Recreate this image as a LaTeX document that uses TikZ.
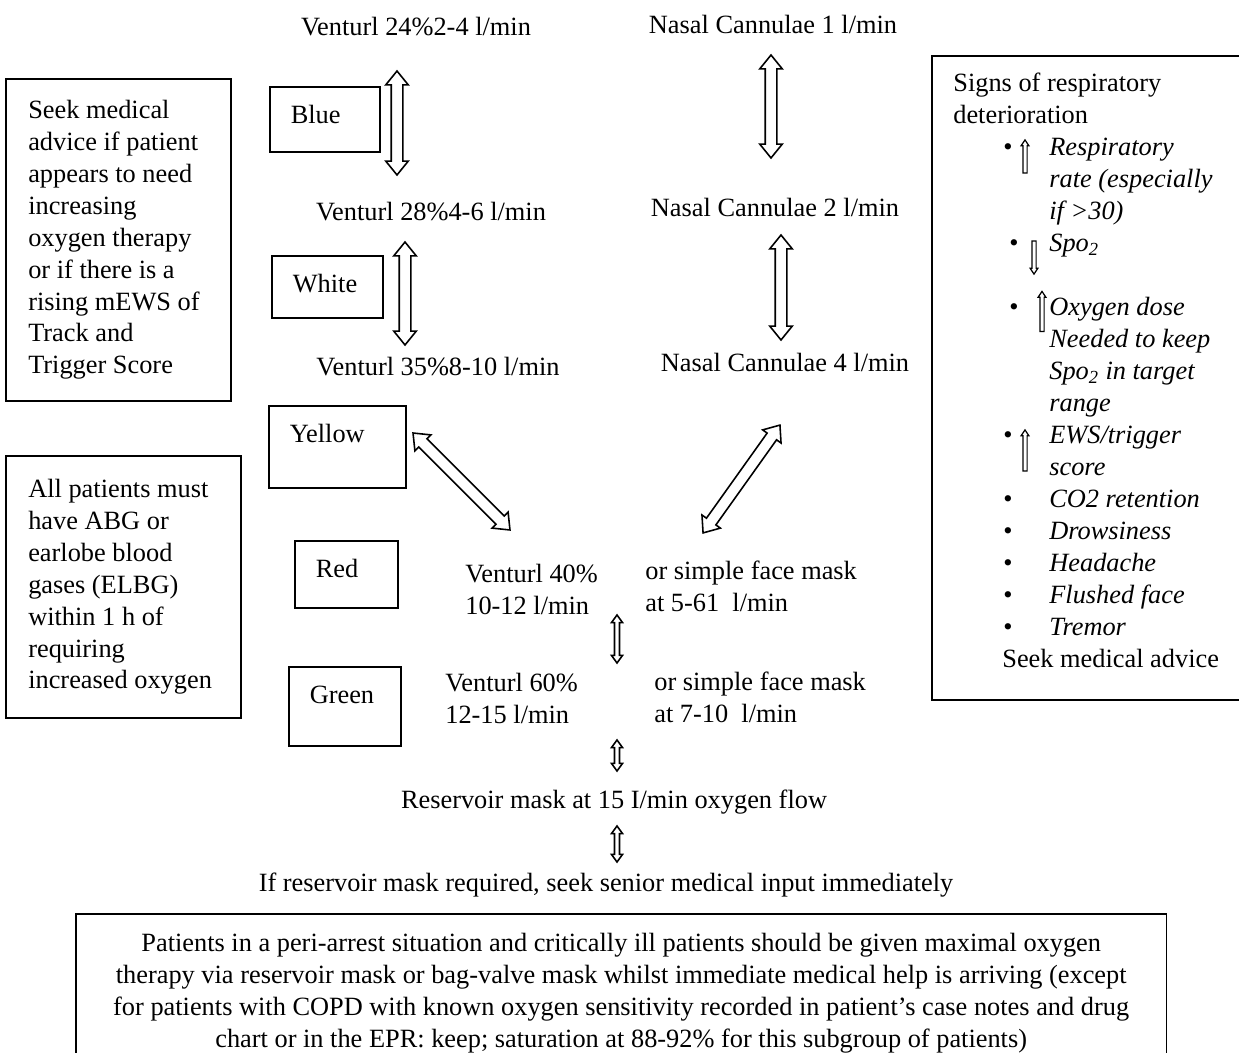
\documentclass[tikz,border=0pt]{standalone}
\usepackage{fontspec}
\setmainfont{Liberation Serif}
\usetikzlibrary{shapes.arrows,calc}

% two-headed block arrow between two named points
\newcommand{\twoway}[3][bigway]{%
  \path let \p1=($(#3)-(#2)$), \n1={veclen(\x1,\y1)} in
    (#2) -- (#3) node[#1, midway, sloped, minimum height=\n1] {};}
% one line of the list of signs
\newcommand{\sign}[2]{\hspace*{1cm}\makebox[0.92cm][l]{#1}\textit{#2}}

\begin{document}
\begin{tikzpicture}[x=0.02cm, y=-0.02cm,
    font=\fontsize{15}{18.2}\selectfont,
    txt/.style = {inner sep=0pt, align=left},
    colbox/.style = {draw, line width=0.9pt, anchor=north west, inner xsep=0.42cm, inner ysep=0pt, text height=0.74cm},
    note/.style = {draw, line width=0.9pt, anchor=north west, align=flush left, inner xsep=0.45cm},
    bigway/.style = {double arrow, draw, line width=0.9pt, inner xsep=0pt, inner ysep=0.1cm,
      double arrow head extend=0.11cm, double arrow tip angle=78},
    smallway/.style = {bigway, inner ysep=0.034cm, double arrow head extend=0.06cm, double arrow tip angle=72},
    upmark/.style = {single arrow, draw, line width=0.7pt, inner xsep=0pt, inner ysep=0.03cm,
      single arrow head extend=0.036cm, single arrow tip angle=67, rotate=90},
    downmark/.style = {upmark, rotate=180}]

\useasboundingbox (0,0) rectangle (1239,1053);
\clip (0,0) rectangle (1239,1053);

% venturi column
\node[txt] (v24) at (416,27) {Venturl 24\%2-4 l/min};
\node[txt] (v28) at (431,212) {Venturl 28\%4-6 l/min};
\node[txt] (v35) at (438,367) {Venturl 35\%8-10 l/min};

% nasal column
\node[txt] (nc1) at (773,24) {Nasal Cannulae 1 l/min};
\node[txt] (nc2) at (775,207) {Nasal Cannulae 2 l/min};
\node[txt] (nc4) at (785,362) {Nasal Cannulae 4 l/min};

% colour codes
\node[colbox, text width=1.36cm, text depth=0.56cm] (blue) at (269,86) {Blue};
\node[colbox, text width=1.38cm, text depth=0.5cm] (white) at (271,255) {White};
\node[colbox, text width=1.9cm, text depth=0.9cm] (yellow) at (268,405) {Yellow};
\node[colbox, text width=1.22cm, text depth=0.6cm] (red) at (294,540) {Red};
\node[colbox, text width=1.4cm, text depth=0.84cm] (green) at (288,666) {Green};

\node[txt, anchor=north west] (v40) at (465,564) {Venturl 40\%\\10-12 l/min};
\node[txt, anchor=north west] (mask5) at (645,561) {or simple face mask\\at 5-61\ \ l/min};
\node[txt, anchor=north west] (v60) at (445,673) {Venturl 60\%\\12-15 l/min};
\node[txt, anchor=north west] (mask7) at (654,672) {or simple face mask\\at 7-10\ \ l/min};

\node[txt] (res) at (614,802) {Reservoir mask at 15 I/min oxygen flow};
\node[txt] (senior) at (606,885) {If reservoir mask required, seek senior medical input immediately};

% side notes
\node[note, text width=3.6cm, minimum height=6.44cm] (seek) at (5,78)
  {Seek medical\\advice if patient\\appears to need\\increasing\\oxygen therapy\\or if there is a\\rising mEWS of\\Track and\\Trigger Score};
\node[note, text width=3.8cm, minimum height=5.24cm] (abg) at (5,455)
  {All patients must\\have ABG or\\earlobe blood\\gases (ELBG)\\within 1 h of\\requiring\\increased oxygen};

\draw[line width=0.9pt] (932,56) rectangle (1260,700);
\node[txt, anchor=north west] (signs) at (953,73)
  {Signs of respiratory\\
   deterioration\\
   \sign{\textbullet}{Respiratory}\\
   \sign{}{rate (especially}\\
   \sign{}{if >30)}\\
   \sign{\hspace*{0.12cm}\textbullet}{Spo\textsubscript{2}}\\
   \mbox{}\\
   \sign{\hspace*{0.12cm}\textbullet}{Oxygen dose}\\
   \sign{}{Needed to keep}\\
   \sign{}{Spo\textsubscript{2} in target}\\
   \sign{}{range}\\
   \sign{\textbullet}{EWS/trigger}\\
   \sign{}{score}\\
   \sign{\textbullet}{CO2 retention}\\
   \sign{\textbullet}{Drowsiness}\\
   \sign{\textbullet}{Headache}\\
   \sign{\textbullet}{Flushed face}\\
   \sign{\textbullet}{Tremor}\\
   \hspace*{0.98cm}Seek medical advice};
\node[upmark, minimum height=0.66cm] (up1) at (1025,158) {};
\node[downmark, minimum height=0.66cm] (dn2) at (1034,256) {};
\node[upmark, minimum height=0.8cm] (up3) at (1042,313) {};
\node[upmark, minimum height=0.82cm] (up4) at (1025,452) {};

\node[draw, line width=0.9pt, anchor=north west, align=flush center, text width=21.22cm, inner xsep=0.3cm, inner ysep=0.38cm] (arrest) at (75,913)
  {Patients in a peri-arrest situation and critically ill patients should be given maximal oxygen\\
   therapy via reservoir mask or bag-valve mask whilst immediate medical help is arriving (except\\
   for patients with COPD with known oxygen sensitivity recorded in patient's case notes and drug\\
   chart or in the EPR: keep; saturation at 88-92\% for this subgroup of patients)};

% arrow ends
\coordinate (b1) at (397,71);  \coordinate (b2) at (397,175);
\coordinate (w1) at (405,242); \coordinate (w2) at (405,345);
\coordinate (n1) at (771,55);  \coordinate (n2) at (771,158);
\coordinate (n3) at (781,235); \coordinate (n4) at (781,340);
\coordinate (y1) at (413,433); \coordinate (y2) at (510,530);
\coordinate (m1) at (780,425); \coordinate (m2) at (703,533);
\coordinate (r1) at (617,615); \coordinate (r2) at (617,663);
\coordinate (g1) at (617,740); \coordinate (g2) at (617,771);
\coordinate (s1) at (617,826); \coordinate (s2) at (617,862);

\twoway{b1}{b2}
\twoway{w1}{w2}
\twoway{n1}{n2}
\twoway{n3}{n4}
\twoway{y1}{y2}
\twoway{m1}{m2}
\twoway[smallway]{r1}{r2}
\twoway[smallway]{g1}{g2}
\twoway[smallway]{s1}{s2}
\end{tikzpicture}
\end{document}
